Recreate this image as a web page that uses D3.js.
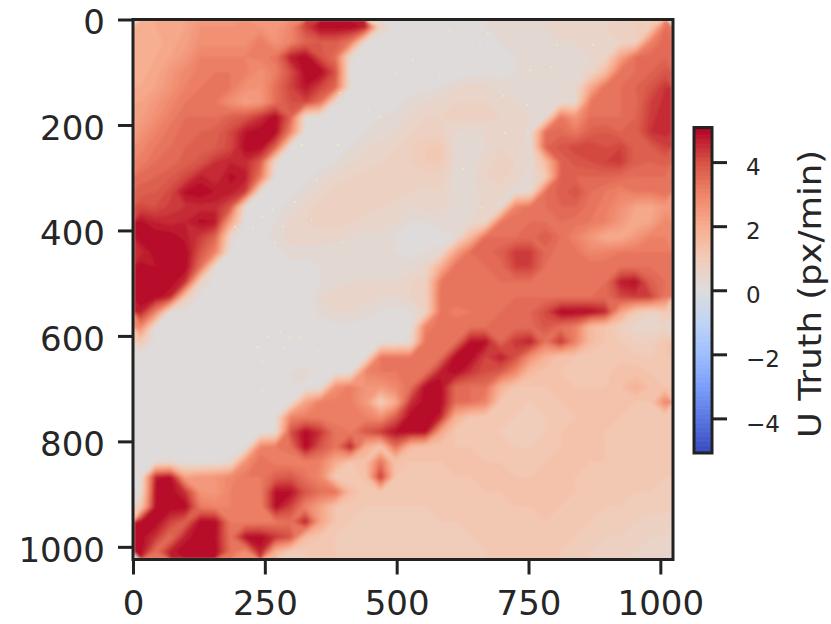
<!DOCTYPE html>
<html><head><meta charset="utf-8">
<script src="https://cdnjs.cloudflare.com/ajax/libs/d3/7.8.5/d3.min.js"></script>
<style>html,body{margin:0;padding:0;background:#fff}svg{display:block}text{font-family:"DejaVu Sans",sans-serif;fill:#262626}</style>
</head><body><svg id="c" width="831" height="624"></svg>
<script>
const xTicks=[0,250,500,750,1000];
const yTicks=[0,200,400,600,800,1000];
const barTicks=[-4,-2,0,2,4];
const barLabel="U Truth (px/min)";
const extent=1024;
const coolwarm=["#3b4cc0","#5977e3","#7b9ff9","#9ebeff","#c0d4f5","#dddcdc","#f2cbb7","#f7ac8e","#ee8468","#d65244","#b40426"];
const uTruth=[
[1.9,2,2,2.2,2.6,2.6,2.6,2.7,2.6,2.5,2.9,4.2,5,5,5,4.7,.6,.1,0,0,0,.1,.1,.2,.2,.2,.3,.4,.4,.5,.6,.6,.7,.8,1,3.4],
[1.8,1.9,2.1,2.3,2.7,2.7,2.7,2.7,3.2,2.6,3,3.6,3.8,3.8,3.2,.2,0,0,0,0,0,0,.1,.1,.2,.2,.3,.3,.4,.4,.5,.5,.6,.7,3,3.6],
[1.8,2,2.2,2.5,3,3,3,3,3.1,3.3,4.7,5,4,3.4,.3,0,0,0,0,0,0,0,0,.1,.1,.2,.3,.3,.3,.3,.4,.6,2.2,3.4,3.5,3.6],
[1.9,2.1,2.5,2.9,3.1,3.2,3.2,3.1,2.7,3.1,4,5,5,4,.1,0,0,0,0,0,0,0,.1,.1,.1,.2,.2,.2,.3,.3,.5,1.5,3.4,3.4,3.6,3.9],
[2,2.2,2.6,3,3.2,3.2,3.2,2.7,2.6,3.4,4.2,4.8,4.2,3.6,.2,0,0,0,0,.1,.2,.4,.5,.5,.3,.2,.2,.3,.3,.4,2,3.4,3.4,3.6,3.9,4.4],
[2.2,2.5,2.9,3.2,3.4,3.2,2.7,2.3,2.5,3.4,4,4.2,3.4,.3,0,0,0,.1,.3,.4,.5,.6,.6,.6,.5,.4,.3,.3,.3,.4,3.2,3.4,3.4,3.5,4.2,4.5],
[2.3,2.7,3.1,3.4,3.4,3.4,3.7,3.9,4.4,5,3.7,.2,0,0,0,.1,.2,.3,.5,.6,.6,.7,.7,.7,.6,.5,.4,.3,3.2,2.6,3.4,3.4,3.4,3.6,4.3,4.6],
[2.6,3,3.3,3.5,3.6,3.7,4.1,4.8,5,5,3,.1,0,0,.1,.2,.3,.4,.6,.7,.7,.4,.3,.4,.6,.5,.3,3.4,3.5,3.2,3.7,3.8,3.6,3.7,4.4,4.5],
[2.9,3.2,3.4,3.6,3.7,3.8,4.1,5,5,3.7,.1,0,0,.1,.2,.4,.5,.6,.8,1,1.1,.3,.2,.4,.6,.6,.3,3.6,3.9,4.1,4.2,4,4.2,3.7,3.8,4.2],
[3.1,3.4,3.5,3.7,3.9,4.4,4.6,4.5,3.8,.3,0,0,.1,.2,.4,.5,.6,.7,.8,1,1,.4,.3,.5,.7,.6,.3,1.5,3.6,3.9,4,4.2,4.3,3.7,3.6,3.7],
[3.5,3.6,3.8,4.1,4.7,4.4,4.9,4.7,3.2,.1,0,.1,.3,.5,.6,.7,.7,.7,.7,.7,.7,.3,.3,.6,.7,.5,.3,1,3.7,3.6,3.6,3.6,3.5,3.4,3.4,3.4],
[3.7,3.8,4.1,4.9,5,4.8,4.7,4.3,.2,0,.1,.3,.5,.7,.7,.7,.7,.7,.6,.5,.6,.3,.3,.5,.5,.3,.4,3.4,3.7,4,3.4,3.2,3,3.2,3.2,3.4],
[4.1,4,4.3,4.4,4.5,4.5,3.9,.1,0,.1,.3,.5,.7,.7,.7,.7,.6,.5,.4,.5,.5,.3,.3,.5,.3,3,3.4,3.4,3.6,3.6,3.3,3.1,2.7,2.2,2.1,2.5],
[4.9,4.6,4.5,4.6,4.9,4.8,2.2,0,0,.2,.5,.6,.7,.7,.6,.5,.5,.4,.2,.2,.3,.3,.4,.5,3.2,3.4,3.4,3.4,3.4,3.3,3.2,3,2.5,2,2.2,2.9],
[5,5,5,4.7,4.3,3.6,.4,0,.1,.3,.5,.5,.5,.5,.4,.3,.3,.2,.1,.1,.1,.2,1.6,3.4,3.4,3.4,3.5,3.8,3.4,3,2.5,2,2,2.5,3,3],
[4.5,5,5,5,3.9,3,.1,0,0,.1,.3,.3,.3,.2,.2,.2,.2,.2,.1,.2,.3,2.2,3.4,3.5,3.7,4.3,4.3,3.5,3.3,3.3,2.9,3,3.2,3.2,3.2,3.2],
[5,4.8,5,5,3.4,.2,0,0,0,0,.1,.1,.2,.3,.3,.3,.3,.3,.3,.5,1.9,3.4,3.4,3.4,3.5,4.2,4.2,3.4,3.2,3.4,3.4,3.4,3.4,3.4,3.4,3.4],
[5,5,5,4.4,.6,0,0,0,0,0,0,.1,.2,.3,.4,.4,.4,.4,.6,.7,3.2,3.4,3.4,3.4,3.4,3.4,3.4,3.4,3.4,3.4,3.4,3.4,4.7,4.9,3.7,3.4],
[5,5,4.6,1,0,0,0,0,0,0,0,0,.4,.6,.6,.5,.4,.4,.6,.7,3.4,3.4,3.4,3.4,3.4,3.4,3.4,3.4,3.4,3.4,3.4,3.5,4.1,4.3,4.2,3.2],
[4.7,3,.1,0,0,0,0,0,0,0,0,0,.3,.4,.4,.3,.2,.1,.2,.6,3.3,3.1,3.2,3.3,3.4,3.5,3.6,4.1,5,5,5,4.6,2.2,1,.6,1],
[2.9,.1,0,0,0,0,0,0,0,0,0,0,0,.1,.1,.1,0,0,.1,3,3.4,3.4,3.4,3.4,3.5,3.5,3.5,3.9,3.4,3.1,1.5,1.2,.8,.5,.4,.6],
[1,0,0,0,0,0,0,0,0,0,0,0,0,0,0,0,0,.1,.3,3.4,3.4,3.4,4.9,4.9,3.6,4.4,4.7,3.3,4.4,3,1.5,1.2,1,.8,.8,1.2],
[0,0,0,0,0,0,0,0,0,0,0,0,0,0,0,.2,3.2,3.2,3.2,3.2,3.4,5,5,4.2,4.7,4,2.7,1.8,1.2,1.2,1.1,1.1,1.1,1.1,1,1.2],
[0,0,0,0,0,0,0,0,0,0,.2,.3,.1,0,.1,3,3.2,3.2,3.2,3.3,4.7,5,4.4,4,3.8,2.9,1.5,1.3,1.2,1.1,1.1,1.1,1.4,1.3,1.2,1.1],
[0,0,0,0,0,0,0,0,0,.1,.2,.1,.1,2.7,3.1,2.6,2.5,2.9,3.4,5,5,3.6,3.4,3.4,1.8,1.2,1.2,1.2,1.2,1.2,1.2,1.2,1.4,1.8,1.4,1.2],
[0,0,0,0,0,0,0,0,0,0,.1,2.2,3.1,3.1,3.1,2.5,.9,2,4.4,5,5,3.5,3.4,3,1.2,1.1,1,1.1,1.2,1.2,1.2,1.2,1.2,1.2,1.2,3],
[0,0,0,0,0,0,0,0,0,.2,3,3.1,3.1,3.1,3.1,3,2.7,3.8,5,5,4.7,1.9,1.2,1.1,1.1,1,.8,1,1.1,1.2,1.2,1.2,1.2,1.1,1.1,1],
[0,0,0,0,0,0,0,0,0,.2,4,5,4.4,3.3,3.2,3.9,4.3,4.9,5,5,2.2,1.1,1.1,1.1,1,.9,.8,1,1.2,1.2,1.2,1.2,1.1,1.1,1,1],
[0,0,0,0,0,0,0,.1,3,3.2,3.4,5,3.9,3.3,4.7,2,1.2,3.4,1.5,1.2,1.2,1.2,1.2,1.1,1.1,1,1,1.1,1.2,1.2,1.2,1.2,1.1,1.1,1,1],
[0,.2,.3,0,0,0,.3,2.7,3.4,3.1,3,3.1,3,2,1.2,1.3,3.4,1.2,1.2,1.2,1.2,1.2,1.2,1.2,1.2,1.1,1.1,1.2,1.2,1.2,1.2,1.2,1.1,1.1,1,1],
[.1,4.7,5,2.2,2.5,2.6,2.9,3.2,3.2,3.7,3.9,3.3,2.9,1,1,1.3,4.4,1.2,1.1,1.1,1.1,1.2,1.2,1.2,1.2,1.2,1.2,1.2,1.2,1.2,1.1,1.1,1.1,1,1,1],
[.2,5,5,4.4,2.6,2.5,3,3.1,3.1,4.9,4.9,3.9,3.4,3.4,1.5,1.1,1.2,1.1,1.1,1,1.1,1.1,1.1,1.2,1.2,1.2,1.2,1.2,1.2,1.2,1.1,1.1,1.1,1,1,.9],
[1,5,5,5,3.2,3,3,3.2,3,4.9,4.2,3,2.2,1.2,1.1,1,1,1,1,1,1,1,1.1,1.1,1.1,1.2,1.2,1.2,1.2,1.1,1.1,1,1,.9,.9,.9],
[5,5,4.2,3.7,5,5,3.2,3.1,3.1,3.2,3.4,4.7,2.2,1.2,1,.9,.9,.9,.9,.9,1,1,1,1,1.1,1.1,1.1,1.2,1.1,1.1,1,.9,.9,.8,.7,.7],
[5,4.4,3.4,4.7,5,4.9,3.3,4.9,5,4.4,4,1.5,1.2,1,.9,.9,.9,.9,.9,.9,.9,.9,1,1,1,1,1.1,1.1,1.1,1,.9,.8,.8,.7,.6,.6],
[5,3.4,4.7,5,5,5,3.4,2.7,4.7,1.8,.9,1,1,1,.9,.9,.9,.9,.9,.9,.9,.9,.9,1,1,1,1.1,1,1,.9,.8,.7,.7,.6,.6,.5]
];
const speckX=[500,392,446,468,320,389,349,307,265,245,339,284,228,193,396,269,256,279,298,317,237,288,351,245,245,601,673,658,804,872,531,753,794,582,702,747,705,749,626,662];
const speckY=[100,139,172,185,238,238,304,346,361,374,380,393,395,393,422,422,602,593,604,604,621,623,630,649,703,20,26,45,48,48,77,96,90,109,145,162,215,215,283,357];
const svg=d3.select("#c");
const x=d3.scaleLinear([0,extent],[133,673]);
const y=d3.scaleLinear([0,extent],[19.5,559.5]);
const cValue=d3.scaleLinear([-5,5],[0,1]);
const ramp=d3.scaleLinear(d3.range(11).map(i=>i/10),coolwarm).interpolate(d3.interpolateRgb);
const color=v=>ramp(cValue(v));
const nRows=uTruth.length,nCols=uTruth[0].length;
const gx=d3.scaleLinear([0,nCols],[0,extent]),gy=d3.scaleLinear([0,nRows],[0,extent]);
const defs=svg.append("defs");
defs.append("clipPath").attr("id","plot").append("rect").attr("x",133).attr("y",19.5).attr("width",540).attr("height",540);
defs.append("filter").attr("id","soft").attr("x","-2%").attr("y","-2%").attr("width","104%").attr("height","104%").append("feGaussianBlur").attr("stdDeviation",1.6);
const step=0.2;
const thresholds=d3.range(0.2,5.01,step);
const contours=d3.contours().size([nCols,nRows]).smooth(true).thresholds(thresholds)(uTruth.flat());
const path=d3.geoPath(d3.geoTransform({point(a,b){this.stream.point(x(gx(a)),y(gy(b)));}}));
const clip=svg.append("g").attr("clip-path","url(#plot)");
const img=clip.append("g").attr("filter","url(#soft)");
img.append("rect").attr("x",123).attr("y",9).attr("width",560).attr("height",560).attr("fill",color(0.05));
img.selectAll("path").data(contours).join("path").attr("d",path).attr("fill",d=>color(Math.min(5,d.value+step/2)));
clip.append("g").selectAll("circle").data(speckX).join("circle").attr("cx",d=>x(d)).attr("cy",(d,i)=>y(speckY[i])).attr("r",0.9).attr("fill","#f2f2b8").attr("opacity",0.8);
// axes
const xa=svg.append("g").attr("transform","translate(0,559.5)").call(d3.axisBottom(x).tickValues(xTicks).tickSize(15).tickPadding(16.5).tickFormat(d3.format("d")));
const ya=svg.append("g").attr("transform","translate(133,0)").call(d3.axisLeft(y).tickValues(yTicks).tickSize(15).tickPadding(13).tickFormat(d3.format("d")));
[xa,ya].forEach(a=>{a.select(".domain").remove();a.selectAll("line").attr("stroke","#222").attr("stroke-width",3);a.selectAll("text").attr("font-size",34).attr("font-family","DejaVu Sans");});
ya.selectAll("text").attr("dy","0.42em");
svg.append("rect").attr("x",133).attr("y",19.5).attr("width",540).attr("height",540).attr("fill","none").attr("stroke","#222").attr("stroke-width",3);
// colour bar
const cb=d3.scaleLinear([-5.08,5.08],[453,127.5]);
svg.append("g").selectAll("rect").data(d3.range(-5.08,5.08,0.04)).join("rect").attr("x",694).attr("width",18).attr("y",d=>cb(d+0.04)).attr("height",d=>cb(d)-cb(d+0.04)+0.6).attr("fill",d=>color(Math.max(-5,Math.min(5,d))));
svg.append("rect").attr("x",694).attr("y",127.5).attr("width",18).attr("height",325.5).attr("fill","none").attr("stroke","#222").attr("stroke-width",3);
const ba=svg.append("g").attr("transform","translate(712,0)").call(d3.axisRight(cb).tickValues(barTicks).tickSize(15).tickPadding(19).tickFormat(d=>d3.format("d")(d).replace("-","\u2212")));
ba.select(".domain").remove();
ba.selectAll("line").attr("stroke","#222").attr("stroke-width",3);
ba.selectAll("text").attr("font-size",23).attr("font-family","DejaVu Sans").attr("dy","0.55em");
svg.append("text").attr("transform","translate(810,294) rotate(-90)").attr("text-anchor","middle").attr("dominant-baseline","central").attr("font-size",32).attr("textLength",288).attr("lengthAdjust","spacingAndGlyphs").text(barLabel);
</script></body></html>
